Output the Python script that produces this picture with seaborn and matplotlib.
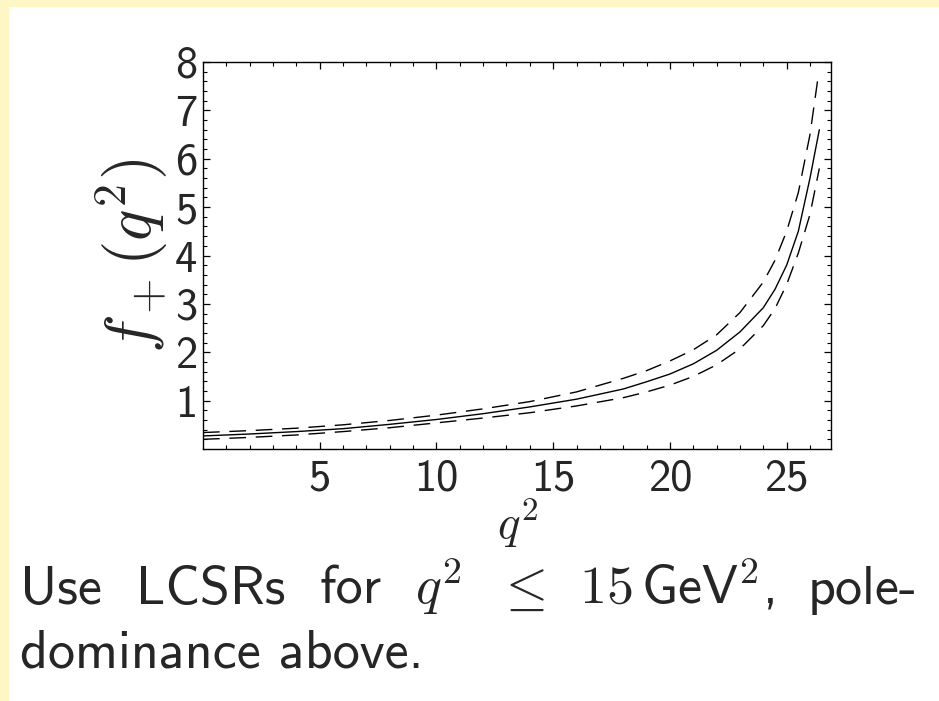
import numpy as np
import pandas as pd
import matplotlib
matplotlib.use("Agg")
import matplotlib.pyplot as plt
import seaborn as sns
from matplotlib.patches import Rectangle

# dane
q2 = [0, 2, 4, 6, 8, 10, 12, 14, 16, 18, 19, 20, 21, 22, 23, 24, 24.5, 25, 25.5, 26, 26.4]
f_central = [0.27, 0.31, 0.36, 0.42, 0.51, 0.61, 0.73, 0.87, 1.03, 1.24, 1.39, 1.55, 1.76,
             2.04, 2.42, 2.92, 3.30, 3.80, 4.50, 5.60, 6.60]
f_lower = [0.20, 0.24, 0.29, 0.36, 0.44, 0.54, 0.64, 0.75, 0.89, 1.06, 1.18, 1.32, 1.50,
           1.74, 2.07, 2.55, 2.90, 3.40, 4.05, 4.85, 5.80]
q2_upper = [0, 2, 4, 6, 8, 10, 12, 14, 16, 18, 19, 20, 21, 22, 23, 24, 24.5, 25, 25.5, 26, 26.35]
f_upper = [0.34, 0.38, 0.43, 0.50, 0.59, 0.70, 0.83, 0.98, 1.18, 1.46, 1.62, 1.82, 2.05,
           2.36, 2.82, 3.45, 3.90, 4.50, 5.30, 6.50, 7.70]

x_ticks = [5, 10, 15, 20, 25]
y_ticks = [1, 2, 3, 4, 5, 6, 7, 8]

caption_line1 = ["Use", "LCSRs", "for", r"$q^2$", r"$\leq$", r"$15\,$GeV$^2$,", "pole-"]
caption_line2 = "dominance above."

sns.set_style("ticks")
plt.rcParams['font.family'] = ['cmss10', 'DejaVu Sans']
plt.rcParams['mathtext.fontset'] = 'cm'
plt.rcParams['axes.unicode_minus'] = False

W, H = 939, 701
fig = plt.figure(figsize=(W / 100, H / 100), dpi=100)
fig.patch.set_facecolor('white')
cream = '#fff6c6'
fig.patches.append(Rectangle((0, 0), 8 / W, 1, transform=fig.transFigure, color=cream, zorder=0))
fig.patches.append(Rectangle((0, 1 - 6 / H), 1, 6 / H, transform=fig.transFigure, color=cream, zorder=0))

ax = fig.add_axes([203 / W, 1 - 449 / H, 628 / W, 387 / H])

df_c = pd.DataFrame({'q2': q2, 'f': f_central})
df_l = pd.DataFrame({'q2': q2, 'f': f_lower})
df_u = pd.DataFrame({'q2': q2_upper, 'f': f_upper})

sns.lineplot(data=df_c, x='q2', y='f', ax=ax, color='black', lw=1.0, sort=False)
sns.lineplot(data=df_u, x='q2', y='f', ax=ax, color='black', lw=1.0, sort=False,
             linestyle=(0, (12, 7)))
sns.lineplot(data=df_l, x='q2', y='f', ax=ax, color='black', lw=1.0, sort=False,
             linestyle=(0, (12, 7)))

ax.set_xlim(0, 26.9)
ax.set_ylim(0, 8)
ax.set_xticks(x_ticks)
ax.set_yticks(y_ticks)
ax.set_xticks(np.arange(1, 27, 1), minor=True)
ax.set_yticks(np.arange(0.2, 8, 0.2), minor=True)
ax.tick_params(which='both', direction='in', top=True, right=True, color='black')
ax.tick_params(which='major', length=5, width=0.9, labelsize=32)
ax.tick_params(which='minor', length=3, width=0.8)
ax.tick_params(axis='x', pad=7)
ax.tick_params(axis='y', pad=4)
for s in ax.spines.values():
    s.set_linewidth(1.0)
    s.set_color('black')

ax.set_xlabel(r'$q^2$', fontsize=34, labelpad=-2)
ax.set_ylabel(r'$f_+(q^2)$', fontsize=47, labelpad=4)

# podpis pod wykresem - pierwsza linia wyjustowana
fs = 39
x0, x1 = 20, 918
y1 = 1 - 604 / H
y2 = 1 - 668 / H
texts = [fig.text(0, y1, w, fontsize=fs, va='baseline', ha='left') for w in caption_line1]
fig.canvas.draw()
r = fig.canvas.get_renderer()
widths = [t.get_window_extent(r).width for t in texts]
gap = (x1 - x0 - sum(widths)) / (len(texts) - 1)
xp = x0
for t, w in zip(texts, widths):
    t.set_x(xp / W)
    xp += w + gap
fig.text(x0 / W, y2, caption_line2, fontsize=fs, va='baseline', ha='left')

fig.savefig("out.png", dpi=100)
